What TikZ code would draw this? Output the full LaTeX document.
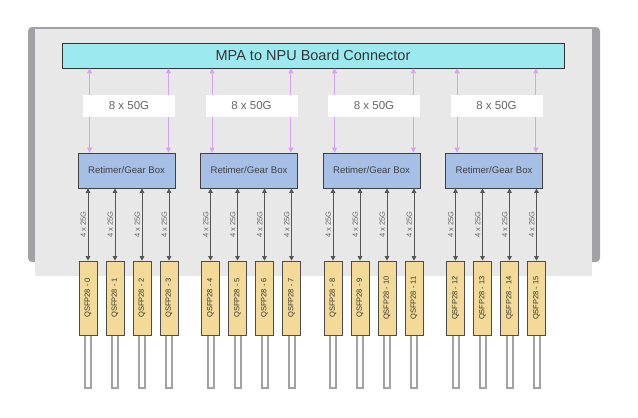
\documentclass[tikz,border=0pt]{standalone}
\usepackage{fontspec}
\setmainfont{Liberation Sans}
\usetikzlibrary{arrows.meta}

\definecolor{chassisdark}{HTML}{A2A2A6}
\definecolor{chassislight}{HTML}{E8E8E8}
\definecolor{connbarcyan}{HTML}{9CEAF0}
\definecolor{gearblue}{HTML}{A6C0E5}
\definecolor{qsfpgold}{HTML}{F4DA98}
\definecolor{lanelilac}{HTML}{D8A2F0}
\definecolor{lanegrey}{HTML}{555555}

\tikzset{
  connbar/.style={draw=black!80,fill=connbarcyan,line width=0.8pt,minimum width=502pt,minimum height=25pt,inner sep=0pt,font=\fontsize{14.5}{15}\selectfont,text=black!80},
  ratebox/.style={fill=white,minimum width=92pt,minimum height=22pt,inner sep=0pt,font=\fontsize{11.5}{12}\selectfont,text=black!60},
  retimer/.style={draw=black!75,fill=gearblue,line width=0.8pt,minimum width=97pt,minimum height=35pt,inner sep=0pt,font=\fontsize{9.6}{10}\selectfont,text=black!75},
  qsfp/.style={draw=black!70,fill=qsfpgold,line width=0.7pt,minimum width=74pt,minimum height=18pt,inner sep=0pt,rotate=90,font=\fontsize{7.5}{8}\selectfont,text=black!80},
  cable/.style={draw=chassisdark,fill=white,line width=2pt},
  lanepurple/.style={draw=lanelilac,line width=0.9pt,{Triangle[length=5pt,width=5pt]}-{Triangle[length=5pt,width=5pt]}},
  lanegray/.style={draw=lanegrey,line width=0.9pt,{Triangle[length=4.5pt,width=4.5pt]}-{Triangle[length=4.5pt,width=4.5pt]}},
  ratetext/.style={rotate=90,anchor=south,inner sep=1.5pt,font=\fontsize{7.5}{8}\selectfont,text=black!60}
}

\begin{document}
\begin{tikzpicture}[x=1pt,y=-1pt]
	\useasboundingbox (0,0) rectangle (638,418);
	% chassis
	\fill[chassisdark,rounded corners=4pt] (28,27) rectangle (600,262);
	\fill[chassislight] (35,29) rectangle (592,276);
	\node[connbar] (mpa) at (313,55.5) {MPA to NPU Board Connector};
	\foreach \g in {0,...,3}{
		\pgfmathsetmacro\gx{122.5*\g}
		\node[retimer] (rt\g) at (126.5+\gx,170.5) {Retimer/Gear Box};
		\draw[lanepurple] ([xshift=12pt]rt\g.north west |- mpa.south) -- ([xshift=12pt]rt\g.north west);
		\draw[lanepurple] ([xshift=-7pt]rt\g.north east |- mpa.south) -- ([xshift=-7pt]rt\g.north east);
		\node[ratebox] (bw\g) at (129+\gx,106) {8 x 50G};
		\foreach \i in {0,...,3}{
			\pgfmathtruncatemacro\n{4*\g+\i}
			\draw[cable] (88+\gx+27*\i-3,325) rectangle ++(6,63);
			\node[qsfp] (q\n) at (88+\gx+27*\i,298) {QSFP28 - \n};
			\draw[lanegray] (q\n.east |- rt\g.south) -- (q\n.east) node[midway,ratetext] {4 x 25G};
		}
	}
\end{tikzpicture}
\end{document}
